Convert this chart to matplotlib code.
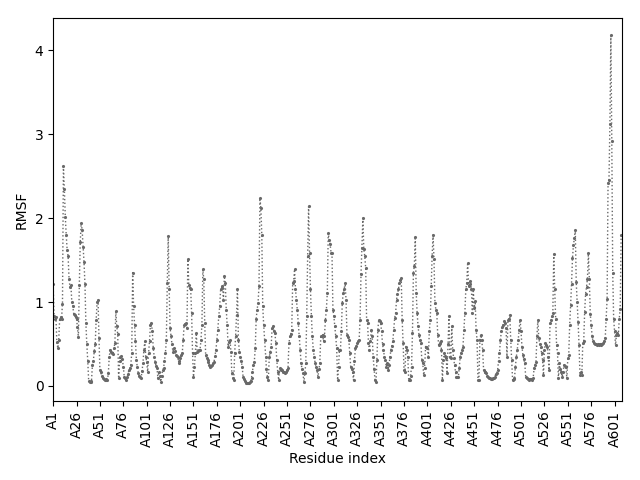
"""
RMSF por resíduo (cadeia A) — curva pontilhada com marcadores.
"""

import numpy as np
import matplotlib
matplotlib.use("Agg")
import matplotlib.pyplot as plt

CHAIN = "A"
TICK_STEP = 25

# RMSF, um valor por resíduo (A1 ... A609)
rmsf = [
    1.22, 0.83, 0.80, 0.82, 0.52, 0.45, 0.55, 0.80, 0.82, 0.80,
    0.98, 2.62, 2.35, 2.02, 1.80, 1.62, 1.55, 1.28, 1.18, 1.20,
    1.00, 0.95, 0.86, 0.85, 0.82, 0.80, 0.70, 0.58, 1.20, 1.72,
    1.94, 1.86, 1.66, 1.48, 1.22, 0.75, 0.50, 0.30, 0.06, 0.05,
    0.05, 0.06, 0.25, 0.30, 0.42, 0.50, 0.79, 1.00, 1.03, 0.57,
    0.19, 0.16, 0.12, 0.10, 0.08, 0.07, 0.08, 0.07, 0.07, 0.15,
    0.35, 0.43, 0.40, 0.39, 0.38, 0.45, 0.51, 0.89, 0.71, 0.62,
    0.09, 0.30, 0.35, 0.36, 0.32, 0.23, 0.11, 0.09, 0.07, 0.11,
    0.14, 0.19, 0.21, 0.25, 0.39, 1.35, 0.95, 0.73, 0.53, 0.31,
    0.22, 0.15, 0.12, 0.11, 0.09, 0.18, 0.27, 0.43, 0.53, 0.35,
    0.29, 0.17, 0.39, 0.53, 0.73, 0.75, 0.65, 0.45, 0.35, 0.29,
    0.24, 0.21, 0.09, 0.17, 0.12, 0.05, 0.12, 0.19, 0.21, 0.30,
    0.39, 0.55, 1.23, 1.79, 1.15, 0.69, 0.59, 0.50, 0.41, 0.45,
    0.42, 0.37, 0.36, 0.35, 0.30, 0.27, 0.33, 0.37, 0.39, 0.55,
    0.73, 0.74, 0.75, 0.69, 1.51, 1.20, 1.17, 1.15, 0.87, 0.39,
    0.11, 0.23, 0.39, 0.63, 0.41, 0.42, 0.43, 0.43, 0.55, 0.73,
    1.39, 1.27, 0.75, 0.37, 0.33, 0.31, 0.28, 0.25, 0.23, 0.24,
    0.25, 0.27, 0.29, 0.36, 0.43, 0.55, 0.67, 0.83, 0.95, 1.15,
    1.17, 1.19, 1.03, 1.31, 1.23, 0.91, 0.73, 0.47, 0.52, 0.55,
    0.41, 0.15, 0.10, 0.07, 0.39, 0.59, 0.85, 1.16, 0.55, 0.41,
    0.35, 0.30, 0.23, 0.11, 0.08, 0.06, 0.04, 0.03, 0.03, 0.04,
    0.05, 0.06, 0.10, 0.17, 0.25, 0.29, 0.45, 0.80, 0.91, 0.99,
    1.19, 2.24, 2.12, 1.80, 0.95, 0.73, 0.55, 0.35, 0.20, 0.11,
    0.07, 0.35, 0.40, 0.47, 0.69, 0.71, 0.66, 0.63, 0.51, 0.31,
    0.17, 0.07, 0.21, 0.20, 0.19, 0.19, 0.17, 0.16, 0.15, 0.17,
    0.19, 0.21, 0.51, 0.59, 0.62, 0.67, 1.23, 1.25, 1.39, 1.15,
    1.03, 0.90, 0.75, 0.59, 0.43, 0.27, 0.20, 0.15, 0.05, 0.15,
    0.27, 0.83, 1.55, 2.14, 1.59, 1.15, 0.83, 0.59, 0.43, 0.35,
    0.27, 0.23, 0.19, 0.11, 0.20, 0.27, 0.59, 0.60, 0.61, 0.53,
    0.60, 0.79, 0.91, 1.11, 1.82, 1.74, 1.69, 1.59, 1.59, 0.91,
    0.83, 0.71, 0.59, 0.45, 0.07, 0.23, 0.43, 0.43, 0.65, 0.99,
    1.11, 1.15, 1.23, 1.03, 0.61, 0.58, 0.55, 0.39, 0.23, 0.20,
    0.17, 0.07, 0.30, 0.45, 0.48, 0.51, 0.53, 0.55, 0.79, 1.33,
    1.65, 2.00, 1.63, 1.55, 1.41, 0.79, 0.75, 0.51, 0.43, 0.53,
    0.67, 0.59, 0.35, 0.20, 0.07, 0.05, 0.31, 0.67, 0.79, 0.77,
    0.75, 0.65, 0.50, 0.43, 0.35, 0.31, 0.23, 0.27, 0.19, 0.25,
    0.35, 0.43, 0.48, 0.53, 0.67, 0.81, 0.87, 1.03, 1.10, 1.15,
    1.23, 1.26, 1.29, 0.79, 0.51, 0.19, 0.17, 0.47, 0.43, 0.35,
    0.07, 0.07, 0.12, 0.23, 0.63, 1.35, 1.43, 1.78, 1.11, 0.87,
    0.71, 0.61, 0.55, 0.51, 0.31, 0.27, 0.13, 0.21, 0.47, 0.46,
    0.45, 0.35, 0.65, 0.79, 1.19, 1.55, 1.80, 1.51, 0.99, 0.91,
    0.87, 0.61, 0.49, 0.51, 0.53, 0.43, 0.07, 0.31, 0.39, 0.36,
    0.33, 0.15, 0.50, 0.83, 0.35, 0.33, 0.71, 0.43, 0.33, 0.25,
    0.17, 0.11, 0.11, 0.11, 0.21, 0.35, 0.39, 0.43, 0.47, 0.67,
    0.87, 1.15, 1.23, 1.47, 1.19, 1.22, 1.25, 1.15, 0.87, 1.15,
    0.93, 1.01, 0.67, 0.55, 0.07, 0.07, 0.55, 0.61, 0.55, 0.43,
    0.19, 0.17, 0.16, 0.15, 0.12, 0.11, 0.09, 0.09, 0.08, 0.08,
    0.09, 0.10, 0.11, 0.14, 0.15, 0.19, 0.30, 0.39, 0.55, 0.65,
    0.70, 0.73, 0.77, 0.75, 0.69, 0.35, 0.79, 0.80, 0.85, 0.55,
    0.31, 0.07, 0.08, 0.09, 0.23, 0.35, 0.43, 0.55, 0.67, 0.79,
    0.65, 0.47, 0.37, 0.32, 0.27, 0.11, 0.09, 0.08, 0.08, 0.07,
    0.08, 0.08, 0.07, 0.10, 0.21, 0.25, 0.29, 0.59, 0.79, 0.57,
    0.50, 0.47, 0.39, 0.31, 0.13, 0.43, 0.51, 0.49, 0.47, 0.35,
    0.19, 0.75, 0.79, 0.83, 0.87, 1.57, 1.15, 0.80, 0.49, 0.39,
    0.09, 0.27, 0.20, 0.17, 0.11, 0.17, 0.25, 0.24, 0.23, 0.09,
    0.33, 0.37, 0.73, 0.96, 1.22, 1.52, 1.68, 1.76, 1.86, 1.24,
    1.00, 0.76, 0.49, 0.13, 0.17, 0.13, 0.51, 0.53, 0.88, 1.10,
    1.18, 1.28, 1.58, 1.28, 0.86, 0.73, 0.59, 0.53, 0.51, 0.50,
    0.50, 0.49, 0.50, 0.49, 0.50, 0.49, 0.50, 0.50, 0.51, 0.53,
    0.57, 0.80, 1.04, 2.42, 2.46, 3.12, 4.18, 2.92, 1.35, 0.80,
    0.65, 0.49, 0.61, 0.63, 0.61, 0.80, 0.92, 1.80, 1.80,
]

residues = np.arange(len(rmsf))
tick_pos = residues[::TICK_STEP]
tick_labels = [f"{CHAIN}{i + 1}" for i in tick_pos]

fig, ax = plt.subplots(figsize=(6.4, 4.8), dpi=100)
ax.plot(residues, rmsf, color="dimgray", linestyle=":", linewidth=1,
        marker=".", markersize=2.5)
ax.set_xlim(residues[0], residues[-1])
ax.set_xticks(tick_pos, tick_labels, rotation=90)
ax.set_xlabel("Residue index")
ax.set_ylabel("RMSF")
fig.subplots_adjust(left=0.083, right=0.972, bottom=0.165, top=0.9625)
fig.savefig("out.png", dpi=100)
plt.close(fig)
